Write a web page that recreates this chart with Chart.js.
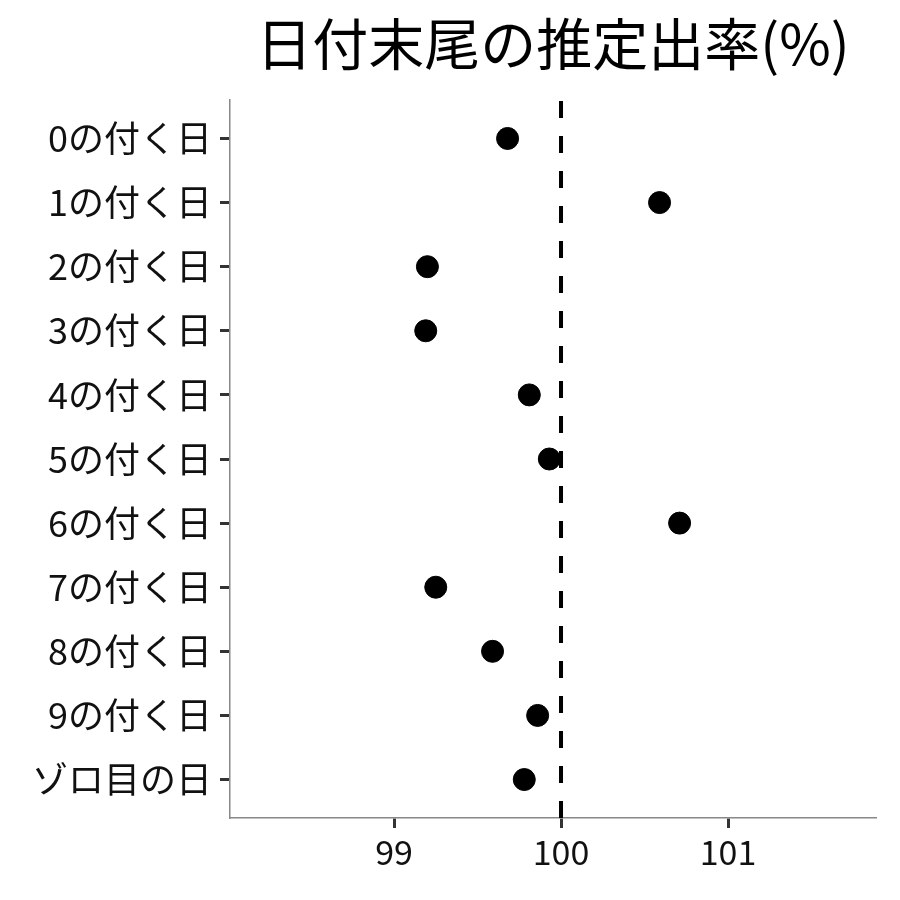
<!DOCTYPE html>
<html>
<head>
<meta charset="utf-8">
<script src="https://cdn.jsdelivr.net/npm/chart.js@4"></script>
<style>
  body { margin: 0; background: #fff; }
  #wrap { width: 900px; height: 900px; }
</style>
</head>
<body>
<div id="wrap"><canvas id="rateChart" width="900" height="900"></canvas></div>
<script>
const categories = ['0の付く日', '1の付く日', '2の付く日', '3の付く日', '4の付く日',
    '5の付く日', '6の付く日', '7の付く日', '8の付く日', '9の付く日', 'ゾロ目の日'];
const rates = [99.68, 100.59, 99.20, 99.19, 99.81, 99.93, 100.71, 99.25, 99.59, 99.86, 99.78];
const xTicks = [99, 100, 101];
const refValue = 100;

const font = "'Noto Sans CJK JP', 'Noto Sans', sans-serif";

const points = rates.map((v, i) => ({ x: v, y: i + 1 }));

const ctx = document.getElementById('rateChart').getContext('2d');
new Chart(ctx, {
    type: 'scatter',
    data: {
        datasets: [{
            type: 'line',
            data: [{ x: refValue, y: 11.6 }, { x: refValue, y: 0.4 }],
            borderColor: '#000',
            borderWidth: 4,
            borderDash: [17, 18],
            pointRadius: 0,
            fill: false
        }, {
            data: points,
            backgroundColor: '#000',
            borderColor: '#000',
            pointRadius: 11,
            pointHoverRadius: 11
        }]
    },
    options: {
        responsive: false,
        animation: false,
        layout: { padding: { left: 0, right: 24, top: 0, bottom: 0 } },
        plugins: {
            legend: { display: false },
            tooltip: { enabled: false },
            title: {
                display: true,
                text: '日付末尾の推定出率(%)',
                color: '#000',
                fullSize: false,
                font: { family: font, size: 56, weight: 'normal' },
                padding: { top: 10, bottom: 22.8 }
            }
        },
        scales: {
            x: {
                type: 'linear',
                min: 98.018,
                max: 101.886,
                afterBuildTicks: (scale) => { scale.ticks = xTicks.map(v => ({ value: v })); },
                afterFit: (scale) => { scale.height = 82; },
                border: { color: '#888', width: 1.5 },
                grid: { drawOnChartArea: false, drawTicks: true, tickLength: 10, tickColor: '#333', tickWidth: 3 },
                ticks: { color: '#111', padding: 4, font: { family: font, size: 34 } }
            },
            y: {
                type: 'linear',
                min: 0.4,
                max: 11.6,
                reverse: true,
                afterBuildTicks: (scale) => { scale.ticks = categories.map((c, i) => ({ value: i + 1 })); },
                afterFit: (scale) => { scale.width = 230; },
                border: { color: '#888', width: 1.5 },
                grid: { drawOnChartArea: false, drawTicks: true, tickLength: 10, tickColor: '#333', tickWidth: 3 },
                ticks: {
                    color: '#111',
                    padding: 8,
                    font: { family: font, size: 36 },
                    callback: (v) => categories[Math.round(v) - 1]
                }
            }
        }
    }
});
</script>
</body>
</html>
